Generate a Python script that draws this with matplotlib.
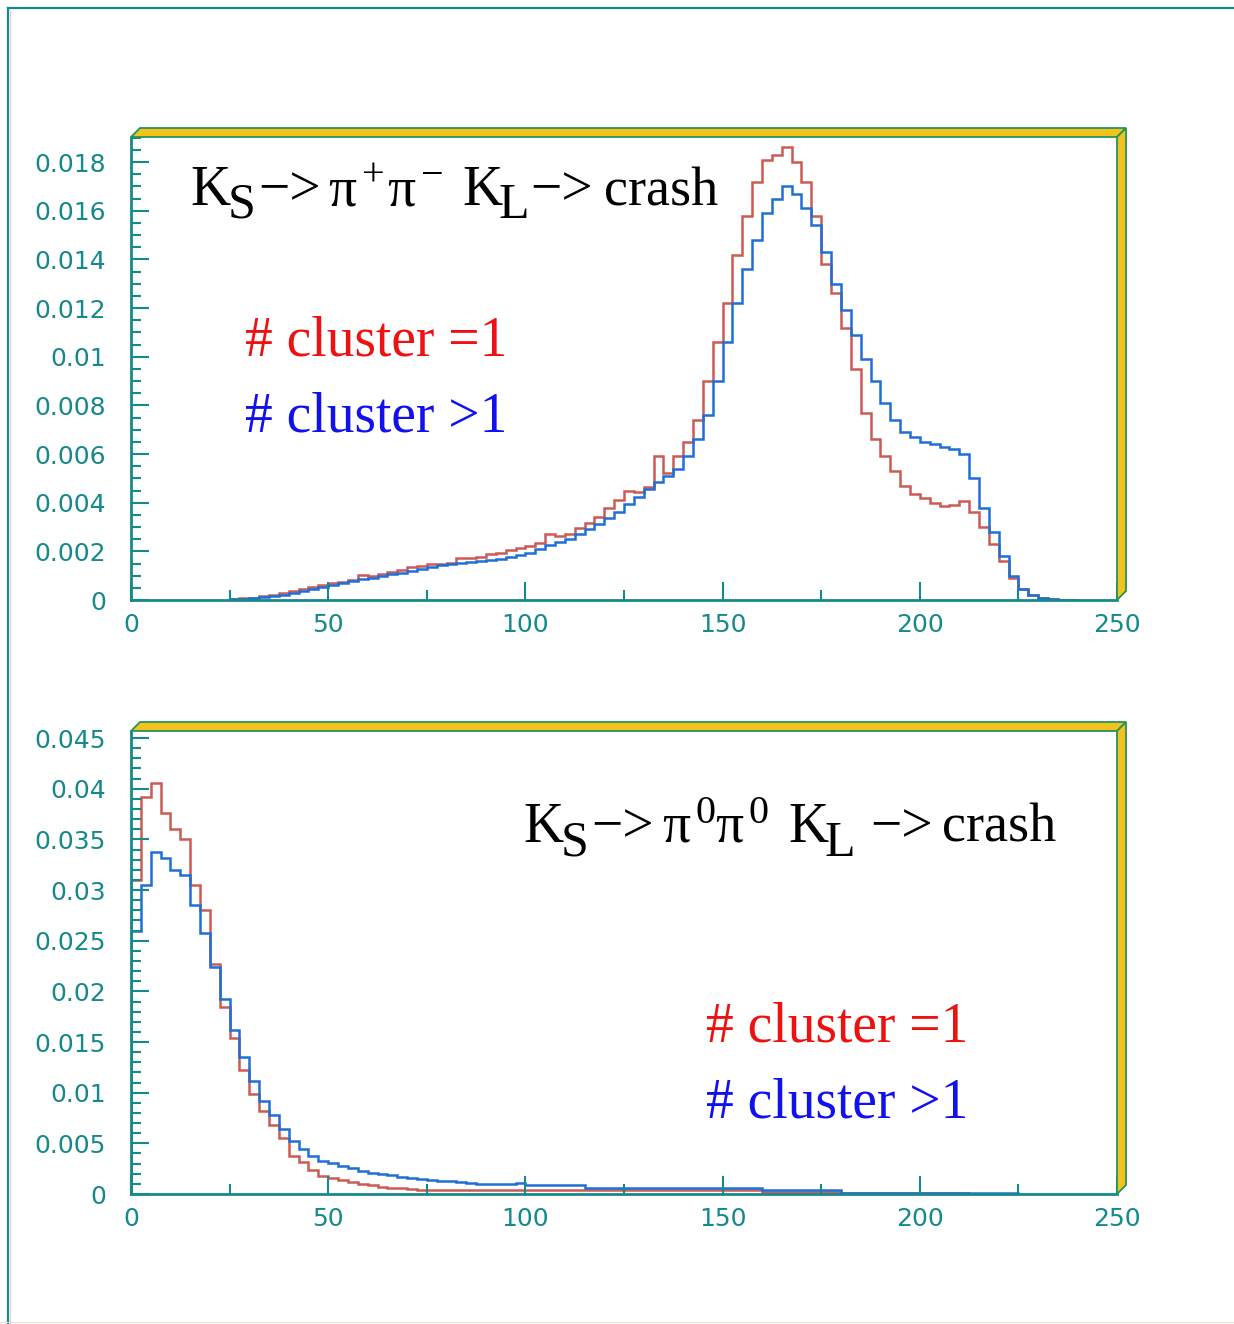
import numpy as np
import matplotlib
matplotlib.use("Agg")
import matplotlib.pyplot as plt
from matplotlib.patches import Polygon
from matplotlib.lines import Line2D
from matplotlib.ticker import MultipleLocator, FuncFormatter

# ---- data (values in units of 1e-3, 2.5-wide bins) ----
top_start = 25.0
top_width = 2.5
top_red = [
    0.05, 0.07, 0.10, 0.15, 0.22, 0.28, 0.36, 0.44, 0.52, 0.60,
    0.68, 0.76, 0.84, 1.02, 0.98, 1.06, 1.14, 1.22, 1.35, 1.40,
    1.48, 1.50, 1.52, 1.74, 1.72, 1.76, 1.90, 1.95, 2.05, 2.12,
    2.20, 2.35, 2.72, 2.62, 2.70, 2.95, 3.15, 3.40, 3.80, 4.10,
    4.50, 4.42, 4.65, 5.90, 5.20, 5.90, 6.50, 7.40, 9.00, 10.6,
    12.2, 14.2, 15.8, 17.2, 18.1, 18.3, 18.6, 18.0, 17.2, 15.8,
    13.8, 12.6, 11.2, 9.5, 7.7, 6.6, 5.9, 5.3, 4.7, 4.35,
    4.2, 4.0, 3.85, 3.9, 4.05, 3.6, 3.0, 2.3, 1.6, 0.9,
    0.45, 0.2, 0.1, 0.05, 0.02, 0.01,
]
top_blue = [
    0.03, 0.05, 0.08, 0.12, 0.17, 0.22, 0.30, 0.37, 0.45, 0.54,
    0.62, 0.70, 0.78, 0.86, 0.92, 1.00, 1.07, 1.12, 1.20, 1.28,
    1.36, 1.42, 1.48, 1.54, 1.58, 1.60, 1.63, 1.68, 1.76, 1.85,
    1.95, 2.10, 2.26, 2.40, 2.52, 2.72, 2.92, 3.12, 3.35, 3.62,
    3.95, 4.25, 4.55, 4.85, 5.10, 5.40, 5.90, 6.60, 7.60, 9.00,
    10.6, 12.2, 13.6, 14.8, 15.9, 16.5, 17.0, 16.7, 16.1, 15.4,
    14.3, 13.0, 11.9, 10.9, 9.9, 9.0, 8.1, 7.4, 6.9, 6.7,
    6.5, 6.4, 6.3, 6.2, 6.0, 5.0, 3.8, 2.8, 1.8, 1.0,
    0.45, 0.2, 0.1, 0.05, 0.02, 0.01,
]

bot_start = 0.0
bot_width = 2.5
bot_red = [
    31.0, 39.2, 40.6, 37.6, 36.0, 35.0, 30.5, 28.0, 22.7, 18.5,
    15.4, 12.2, 9.9, 8.2, 6.8, 5.5, 3.8, 3.2, 2.4, 1.8,
    1.6, 1.35, 1.15, 0.95, 0.85, 0.70, 0.62, 0.55, 0.48, 0.44,
    0.43, 0.43, 0.43, 0.43, 0.42, 0.43, 0.42, 0.43, 0.42, 0.43,
    0.43, 0.42, 0.43, 0.42, 0.43, 0.42, 0.36, 0.36, 0.36, 0.36,
    0.36, 0.36, 0.36, 0.36, 0.36, 0.36, 0.36, 0.36, 0.36, 0.36,
    0.36, 0.36, 0.36, 0.36, 0.2, 0.2, 0.2, 0.2, 0.2, 0.2,
    0.2, 0.2, 0.05, 0.05, 0.05, 0.05, 0.05, 0.05, 0.05, 0.05,
    0.1, 0.1, 0.1, 0.1, 0.1, 0.0, 0.0, 0.0, 0.0, 0.0,
]
bot_blue = [
    26.0, 30.5, 33.8, 33.2, 32.0, 31.5, 28.5, 25.8, 22.4, 19.2,
    16.2, 13.5, 11.2, 9.2, 7.8, 6.4, 5.2, 4.4, 3.8, 3.3,
    3.1, 2.8, 2.55, 2.3, 2.1, 2.0, 1.85, 1.7, 1.55, 1.45,
    1.38, 1.32, 1.25, 1.2, 1.05, 1.0, 1.0, 0.98, 1.0, 1.05,
    0.88, 0.85, 0.85, 0.85, 0.85, 0.85, 0.6, 0.6, 0.6, 0.6,
    0.6, 0.6, 0.6, 0.6, 0.6, 0.6, 0.6, 0.6, 0.6, 0.6,
    0.6, 0.6, 0.6, 0.6, 0.36, 0.36, 0.36, 0.36, 0.36, 0.36,
    0.36, 0.36, 0.13, 0.13, 0.13, 0.13, 0.13, 0.13, 0.13, 0.13,
    0.13, 0.13, 0.13, 0.13, 0.13, 0.13, 0.13, 0.13, 0.13, 0.13,
]

W, H = 1234, 1324
TEAL = "#16898a"
GOLD = "#f3c21c"
GREEN = "#23955c"
RED_LINE = "#cc5a55"
BLUE_LINE = "#1f6fd6"

plt.rcParams['font.family'] = ['DejaVu Sans']

fig = plt.figure(figsize=(W / 100, H / 100), dpi=100)
fig.patch.set_facecolor("white")


def fx(x, y):
    return (x / W, 1 - y / H)


def make_axes(left, top, right, bottom):
    ax = fig.add_axes([left / W, 1 - bottom / H, (right - left) / W, (bottom - top) / H])
    for s in ("top", "right"):
        ax.spines[s].set_visible(False)
    for s in ("left", "bottom"):
        ax.spines[s].set_color(TEAL)
        ax.spines[s].set_linewidth(2.0)
    ax.set_xlim(0, 250)
    ax.xaxis.set_major_locator(MultipleLocator(50))
    ax.xaxis.set_minor_locator(MultipleLocator(25))
    ax.tick_params(axis="both", which="both", direction="in", color=TEAL,
                   labelcolor=TEAL, width=1.5, top=False, right=False)
    ax.tick_params(axis="both", which="major", length=13, labelsize=18)
    ax.tick_params(axis="both", which="minor", length=7)
    ax.tick_params(axis="y", which="major", pad=18)
    ax.tick_params(axis="x", which="major", pad=9)
    ax.yaxis.set_major_formatter(FuncFormatter(lambda v, p: "%g" % round(v, 6)))
    ax.xaxis.set_major_formatter(FuncFormatter(lambda v, p: "%g" % v))
    return ax


def frame_3d(left, top, right, bottom, d=9):
    top_strip = Polygon([fx(left, top), fx(left + d, top - d), fx(right + d, top - d), fx(right, top)],
                        closed=True, transform=fig.transFigure, facecolor=GOLD,
                        edgecolor=GREEN, linewidth=1.3)
    right_strip = Polygon([fx(right, top), fx(right + d, top - d), fx(right + d, bottom - d), fx(right, bottom)],
                          closed=True, transform=fig.transFigure, facecolor=GOLD,
                          edgecolor=GREEN, linewidth=1.3)
    fig.patches.extend([top_strip, right_strip])


def rich(parts, color="black"):
    for x, y, s, size in parts:
        fig.text(x / W, 1 - y / H, s, fontsize=size, family="Liberation Serif",
                 color=color, ha="left", va="baseline")


# ---- top panel ----
ax1 = make_axes(131, 137, 1117, 600)
ax1.set_ylim(0, 0.01903)
ax1.yaxis.set_major_locator(MultipleLocator(0.002))
ax1.yaxis.set_minor_locator(MultipleLocator(0.0005))
edges_top = top_start + top_width * np.arange(len(top_red) + 1)
ax1.stairs(np.array(top_red) * 1e-3, edges_top, color=RED_LINE, linewidth=1.8)
ax1.stairs(np.array(top_blue) * 1e-3, edges_top, color=BLUE_LINE, linewidth=1.8)
frame_3d(131, 137, 1117, 600)

# ---- bottom panel ----
ax2 = make_axes(131, 731, 1117, 1194)
ax2.set_ylim(0, 0.0457)
ax2.yaxis.set_major_locator(MultipleLocator(0.005))
ax2.yaxis.set_minor_locator(MultipleLocator(0.001))
edges_bot = bot_start + bot_width * np.arange(len(bot_red) + 1)
ax2.stairs(np.array(bot_red) * 1e-3, edges_bot, color=RED_LINE, linewidth=1.8)
ax2.stairs(np.array(bot_blue) * 1e-3, edges_bot, color=BLUE_LINE, linewidth=1.8)
frame_3d(131, 731, 1117, 1194)

# ---- annotations ----
rich([
    (190, 205, "K", 40), (228, 218, "S", 36), (258, 205, "\u2212>", 40),
    (328, 205, "\u03c0", 40), (362, 186, "+", 29), (387, 205, "\u03c0", 40),
    (421, 186, "\u2212", 29), (462, 205, "K", 40), (498, 218, "L", 36),
    (530, 205, "\u2212>", 40), (604, 205, "crash", 39),
])
rich([(245, 356, "# cluster =1", 40)], color="#ee1111")
rich([(245, 432, "# cluster >1", 40)], color="#1111ee")

rich([
    (523, 842, "K", 40), (561, 856, "S", 36), (591, 842, "\u2212>", 40),
    (662, 842, "\u03c0", 40), (695, 823, "0", 29), (715, 842, "\u03c0", 40),
    (748, 823, "0", 29), (788, 842, "K", 40), (824, 856, "L", 36),
    (870, 842, "\u2212>", 40), (942, 842, "crash", 39),
])
rich([(706, 1041, "# cluster =1", 40)], color="#ee1111")
rich([(706, 1118, "# cluster >1", 40)], color="#1111ee")

# ---- outer border ----
fig.lines.append(Line2D([8 / W, 8 / W], [0, 1 - 8 / H], transform=fig.transFigure,
                        color=TEAL, linewidth=1.6))
fig.lines.append(Line2D([8 / W, 1], [1 - 8 / H, 1 - 8 / H], transform=fig.transFigure,
                        color=TEAL, linewidth=1.6))
fig.lines.append(Line2D([10 / W, 10 / W], [0, 1 - 10 / H], transform=fig.transFigure,
                        color="#f6c6c6", linewidth=0.8))
fig.lines.append(Line2D([0, 1], [2 / H, 2 / H], transform=fig.transFigure,
                        color="#f6dada", linewidth=0.8))

fig.savefig("out.png", dpi=100, facecolor="white")
